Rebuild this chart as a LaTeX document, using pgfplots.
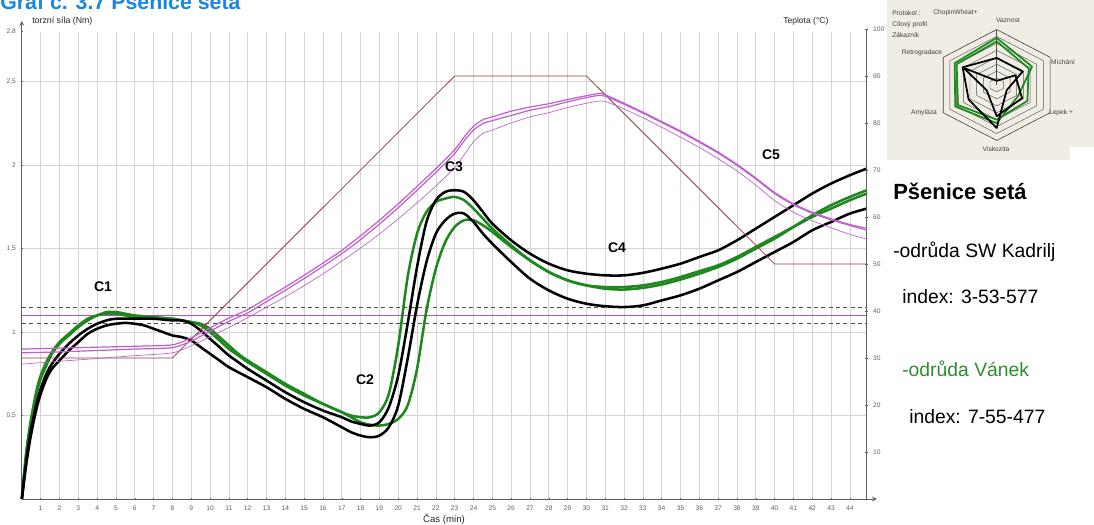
\documentclass[border=0pt]{standalone}
\usepackage{fontspec}
\setmainfont{Liberation Sans}
\usepackage{pgfplots}
\pgfplotsset{compat=1.18}
\definecolor{grn}{RGB}{30,135,30}
\definecolor{mag}{RGB}{190,95,205}
\definecolor{magl}{RGB}{175,80,195}
\definecolor{brn}{RGB}{150,60,60}
\definecolor{dsh}{RGB}{95,75,75}
\definecolor{gridc}{RGB}{212,212,212}
\definecolor{axc}{RGB}{95,95,95}
\definecolor{beige}{RGB}{240,237,229}
\definecolor{ttl}{RGB}{25,135,225}
\definecolor{txtgrn}{RGB}{45,140,45}
\begin{document}
\begin{tikzpicture}
\begin{scope}[x=0.75pt,y=-0.75pt]
\fill[beige] (887,0) rectangle (1094,147);
\fill[beige] (887,147) rectangle (1070,160);
\end{scope}

% ---------------- torque axis ----------------
\begin{axis}[
  at={(16.4pt,-374.25pt)}, anchor=south west,
  scale only axis, width=633.7pt, height=350.5pt,
  xmin=0, xmax=44.9, ymin=0, ymax=2.8,
  axis x line=bottom, axis y line=left,
  axis line style={axc, line width=0.6pt},
  x axis line style={-stealth, shorten >=-7.5pt},
  y axis line style={-stealth, shorten >=-8pt},
  xtick={1,...,44}, ytick={0.5,1,1.5,2,2.5},
  extra y ticks={2.8}, extra y tick style={grid=none},
  grid=major, grid style={gridc, line width=0.5pt},
  tick style={axc, line width=0.4pt}, major tick length=2pt, tick align=center,
  tick label style={font=\fontsize{5}{6}\selectfont, text=axc},
  xticklabel style={inner sep=0.5pt, yshift=-3.2pt},
  /pgf/number format/use comma, /pgf/number format/assume math mode=true,
  clip=false,
]
\addplot[dsh, line width=0.6pt, dash pattern=on 3pt off 2.5pt] coordinates {(0,1.15)(44.9,1.15)};
\addplot[dsh, line width=0.6pt, dash pattern=on 3pt off 2.5pt] coordinates {(0,1.05)(44.9,1.05)};
\addplot[magl, line width=0.9pt] coordinates {(0,1.1)(44.9,1.1)};
% green 1
\addplot[grn, line width=1.9pt, smooth, tension=0.5, line join=round] coordinates {
(0,0)(0.2,0.25)(0.4,0.42)(0.6,0.55)(0.8,0.66)(1,0.74)(1.3,0.82)(1.6,0.88)(2,0.94)(2.5,0.99)(3,1.04)(3.5,1.08)(4,1.10)(4.5,1.12)(5,1.12)(5.5,1.11)(6,1.10)(7,1.09)(8,1.08)(8.5,1.07)(9,1.06)(9.5,1.04)(10,1.00)(10.5,0.95)(11,0.90)(11.5,0.86)(12,0.82)(13,0.75)(14,0.68)(15,0.62)(16,0.57)(17,0.52)(17.5,0.50)(18,0.49)(18.5,0.49)(19,0.52)(19.5,0.63)(20,0.92)(20.5,1.33)(21,1.59)(21.5,1.72)(22,1.78)(22.5,1.80)(23,1.81)(23.5,1.79)(24,1.74)(24.5,1.68)(25,1.62)(26,1.52)(27,1.43)(28,1.36)(29,1.31)(30,1.28)(31,1.26)(32,1.255)(33,1.265)(34,1.285)(35,1.315)(36,1.35)(37,1.39)(38,1.44)(39,1.50)(40,1.56)(41,1.63)(42,1.70)(43,1.76)(44,1.81)(44.9,1.85)};
% green 2
\addplot[grn, line width=1.9pt, smooth, tension=0.5, line join=round] coordinates {
(0,0)(0.2,0.23)(0.4,0.40)(0.6,0.53)(0.8,0.64)(1,0.72)(1.3,0.80)(1.6,0.87)(2,0.93)(2.5,0.98)(3,1.03)(3.5,1.07)(4,1.10)(4.5,1.11)(5,1.11)(5.5,1.10)(6,1.09)(7,1.085)(8,1.08)(8.5,1.07)(9,1.06)(9.5,1.05)(10,1.02)(10.5,0.97)(11,0.92)(11.5,0.87)(12,0.83)(13,0.76)(14,0.69)(15,0.63)(16,0.57)(17,0.52)(17.5,0.49)(18,0.46)(18.5,0.445)(19,0.44)(19.5,0.45)(20,0.48)(20.5,0.56)(21,0.78)(21.5,1.13)(22,1.38)(22.5,1.54)(23,1.63)(23.5,1.67)(24,1.67)(24.5,1.64)(25,1.60)(26,1.51)(27,1.43)(28,1.36)(29,1.31)(30,1.28)(31,1.27)(32,1.27)(33,1.28)(34,1.30)(35,1.33)(36,1.365)(37,1.40)(38,1.45)(39,1.51)(40,1.57)(41,1.63)(42,1.69)(43,1.74)(44,1.79)(44.9,1.83)};
% black 1
\addplot[black, line width=1.9pt, smooth, tension=0.5, line join=round] coordinates {
(0,0)(0.2,0.2)(0.4,0.36)(0.6,0.48)(0.8,0.58)(1,0.66)(1.3,0.75)(1.6,0.81)(2,0.87)(2.5,0.93)(3,0.98)(3.5,1.02)(4,1.05)(4.5,1.07)(5,1.08)(6,1.08)(7,1.08)(8,1.07)(8.5,1.07)(9,1.05)(9.5,1.01)(10,0.96)(10.5,0.91)(11,0.86)(11.5,0.82)(12,0.78)(13,0.71)(14,0.64)(15,0.58)(16,0.53)(17,0.49)(17.5,0.465)(18,0.45)(18.5,0.44)(19,0.46)(19.5,0.55)(20,0.74)(20.5,1.05)(21,1.39)(21.5,1.66)(22,1.79)(22.5,1.84)(23,1.85)(23.5,1.84)(24,1.79)(24.5,1.72)(25,1.65)(26,1.55)(27,1.47)(28,1.41)(29,1.37)(30,1.35)(31,1.34)(32,1.34)(33,1.355)(34,1.38)(35,1.41)(36,1.45)(37,1.49)(38,1.55)(39,1.62)(40,1.69)(41,1.76)(42,1.83)(43,1.89)(44,1.94)(44.9,1.98)};
% black 2
\addplot[black, line width=1.9pt, smooth, tension=0.5, line join=round] coordinates {
(0,0)(0.2,0.18)(0.4,0.33)(0.6,0.45)(0.8,0.55)(1,0.63)(1.3,0.72)(1.6,0.78)(2,0.83)(2.5,0.89)(3,0.94)(3.5,0.99)(4,1.02)(4.5,1.04)(5,1.05)(5.5,1.055)(6,1.05)(6.5,1.04)(7,1.02)(7.5,1.00)(8,0.98)(8.5,0.97)(9,0.95)(9.5,0.91)(10,0.87)(10.5,0.83)(11,0.79)(12,0.73)(13,0.67)(14,0.60)(15,0.54)(16,0.49)(17,0.43)(17.5,0.40)(18,0.38)(18.5,0.37)(19,0.38)(19.5,0.43)(20,0.56)(20.5,0.84)(21,1.16)(21.5,1.42)(22,1.59)(22.5,1.67)(23,1.71)(23.5,1.71)(24,1.66)(24.5,1.59)(25,1.53)(26,1.42)(27,1.32)(28,1.25)(29,1.20)(30,1.17)(31,1.155)(32,1.15)(33,1.16)(34,1.19)(35,1.22)(36,1.26)(37,1.31)(38,1.36)(39,1.42)(40,1.48)(41,1.54)(42,1.61)(43,1.66)(44,1.71)(44.9,1.74)};
\end{axis}

% ---------------- temperature axis ----------------
\begin{axis}[
  at={(16.4pt,-374.25pt)}, anchor=south west,
  scale only axis, width=633.7pt, height=352.5pt,
  xmin=0, xmax=44.9, ymin=0, ymax=100,
  axis x line=none, axis y line*=right,
  axis line style={axc, line width=0.6pt},
  xtick=\empty, ytick={10,20,...,100},
  tick style={axc, line width=0.4pt}, major tick length=2.5pt, tick align=center,
  tick label style={font=\fontsize{5}{6}\selectfont, text=axc},
  /pgf/number format/assume math mode=true,
  clip=false,
]
\addplot[brn, line width=0.6pt] coordinates {(0,30)(8,30)(23,90)(30,90)(40,50)(44.9,50)};
\addplot[mag, line width=0.9pt, smooth, tension=0.4] coordinates {
(0,31.9)(2,32.1)(4,32.3)(6,32.5)(8,32.8)(9,34.3)(10,36.4)(11,38.5)(12,40.3)(13,42.7)(14,45.1)(15,47.6)(16,50.2)(17,52.9)(18,56)(19,59.3)(20,62.8)(21,66.5)(22,70.3)(23,74.3)(23.5,77)(24,79.3)(24.5,80.7)(25,81.3)(26,82.5)(27,83.4)(28,84.1)(29,85)(30,85.8)(30.7,86.3)(31,86)(32,84.2)(33,82.3)(34,80.3)(35,78.3)(36,76.1)(37,73.8)(38,71.2)(39,68.3)(40,65.2)(41,62.8)(42,61)(43,59.6)(44,58.4)(44.9,57.6)};
\addplot[mag, line width=0.9pt, smooth, tension=0.4] coordinates {
(0,31.1)(2,31.3)(4,31.6)(6,31.9)(8,32.2)(9,33.6)(10,35.7)(11,37.8)(12,39.6)(13,42)(14,44.4)(15,46.9)(16,49.5)(17,52.2)(18,55.2)(19,58.5)(20,62)(21,65.7)(22,69.5)(23,73.5)(23.5,76.2)(24,78.5)(24.5,79.9)(25,80.5)(26,81.6)(27,82.7)(28,83.5)(29,84.5)(30,85.4)(30.7,85.9)(31,85.7)(32,84)(33,82.1)(34,80.1)(35,78.1)(36,75.9)(37,73.6)(38,71)(39,68.1)(40,65)(41,62.6)(42,60.8)(43,59.4)(44,58.2)(44.9,57.2)};
\addplot[mag, line width=0.5pt, smooth, tension=0.4] coordinates {
(0,28.7)(2,29.3)(4,29.9)(6,30.5)(8,31.1)(9,32.6)(10,34.5)(11,36.5)(12,38.6)(13,40.8)(14,43)(15,45.4)(16,47.9)(17,50.6)(18,53.4)(19,56.4)(20,59.6)(21,63)(22,66.6)(23,70.5)(23.5,73.2)(24,76)(24.5,77.8)(25,78.5)(26,80)(27,81.3)(28,82.2)(29,83.3)(30,84.2)(30.7,84.7)(31,84.6)(32,83)(33,81.1)(34,79.1)(35,77)(36,74.8)(37,72.4)(38,69.8)(39,66.8)(40,63.5)(41,61)(42,59.2)(43,57.7)(44,56.3)(44.9,55.3)};
\end{axis}

% ---------------- radar inset ----------------
\begin{axis}[
  at={(747.5pt,-63.75pt)}, anchor=origin,
  x=5.78pt, y=5.2pt, hide axis, clip=false,
  xmin=-9, xmax=9, ymin=-9, ymax=9,
]
\addplot[gray!70!black, line width=0.35pt, data cs=polar] coordinates {(90,1)(30,1)(330,1)(270,1)(210,1)(150,1)(90,1)};
\addplot[gray!70!black, line width=0.35pt, data cs=polar] coordinates {(90,2)(30,2)(330,2)(270,2)(210,2)(150,2)(90,2)};
\addplot[gray!70!black, line width=0.35pt, data cs=polar] coordinates {(90,3)(30,3)(330,3)(270,3)(210,3)(150,3)(90,3)};
\addplot[gray!70!black, line width=0.35pt, data cs=polar] coordinates {(90,4)(30,4)(330,4)(270,4)(210,4)(150,4)(90,4)};
\addplot[gray!70!black, line width=0.35pt, data cs=polar] coordinates {(90,5)(30,5)(330,5)(270,5)(210,5)(150,5)(90,5)};
\addplot[gray!70!black, line width=0.35pt, data cs=polar] coordinates {(90,6)(30,6)(330,6)(270,6)(210,6)(150,6)(90,6)};
\addplot[gray!70!black, line width=0.35pt, data cs=polar] coordinates {(90,7)(30,7)(330,7)(270,7)(210,7)(150,7)(90,7)};
\addplot[gray!50!black, line width=0.45pt, data cs=polar] coordinates {(90,8)(30,8)(330,8)(270,8)(210,8)(150,8)(90,8)};
\addplot[gray!60!black, line width=0.4pt, data cs=polar] coordinates {(90,0)(90,8)};
\addplot[grn, line width=1.3pt, data cs=polar, line join=round] coordinates {(90,6.8)(30,5.3)(330,3.2)(270,5.5)(210,6.2)(150,6.3)(90,6.8)};
\addplot[grn, line width=1.3pt, data cs=polar, line join=round] coordinates {(90,6.3)(30,4.8)(330,4.6)(270,5.0)(210,5.8)(150,6.0)(90,6.3)};
\addplot[black, line width=1.3pt, data cs=polar, line join=round] coordinates {(90,3.9)(30,3.9)(330,1.5)(270,6.2)(210,4.2)(150,5.1)(90,3.9)};
\addplot[black, line width=1.3pt, data cs=polar, line join=round] coordinates {(90,0.6)(30,2.8)(330,3.8)(270,4.5)(210,1.5)(150,5.0)(90,0.6)};
\end{axis}

\begin{scope}[x=0.75pt,y=-0.75pt]
% title (cut at top as in the reference)
\node[anchor=base west, inner sep=0, font=\bfseries\fontsize{16}{18}\selectfont, text=ttl] at (0,10) {Graf č. 3.7 Pšenice setá};
% axis titles
\node[anchor=west, inner sep=0, font=\fontsize{6.6}{8}\selectfont, text=black!85] at (32,21) {torzní síla (Nm)};
\node[anchor=west, inner sep=0, font=\fontsize{6.4}{8}\selectfont, text=black!85] at (783,21) {Teplota (°C)};
\node[inner sep=0, font=\fontsize{7.2}{9}\selectfont, text=black!85] at (444,519) {Čas (min)};
% curve labels
\node[inner sep=0, font=\bfseries\fontsize{10.5}{12}\selectfont] at (103,287) {C1};
\node[inner sep=0, font=\bfseries\fontsize{10.5}{12}\selectfont] at (365,380) {C2};
\node[inner sep=0, font=\bfseries\fontsize{10.5}{12}\selectfont] at (454,167) {C3};
\node[inner sep=0, font=\bfseries\fontsize{10.5}{12}\selectfont] at (617,248) {C4};
\node[inner sep=0, font=\bfseries\fontsize{10.5}{12}\selectfont] at (771,155) {C5};
% radar labels
\node[anchor=west, inner sep=0, font=\fontsize{5}{6}\selectfont, text=black!75] at (892,13) {Protokol :};
\node[anchor=west, inner sep=0, font=\fontsize{5}{6}\selectfont, text=black!75] at (933,13) {ChopinWheat+};
\node[anchor=west, inner sep=0, font=\fontsize{5}{6}\selectfont, text=black!75] at (892,24.5) {Cílový profil};
\node[anchor=west, inner sep=0, font=\fontsize{5}{6}\selectfont, text=black!75] at (892,35) {Zákazník};
\node[inner sep=0, font=\fontsize{5}{6}\selectfont, text=black!75] at (1008,20) {Vaznost};
\node[inner sep=0, font=\fontsize{5}{6}\selectfont, text=black!75] at (1063,62) {Míchání};
\node[inner sep=0, font=\fontsize{5}{6}\selectfont, text=black!75] at (1061,113) {Lepek +};
\node[inner sep=0, font=\fontsize{5}{6}\selectfont, text=black!75] at (996,149) {Viskozita};
\node[inner sep=0, font=\fontsize{5}{6}\selectfont, text=black!75] at (924,113) {Amyláza};
\node[inner sep=0, font=\fontsize{5}{6}\selectfont, text=black!75] at (922,53) {Retrogradace};
% right text block
\node[anchor=base west, inner sep=0, font=\bfseries\fontsize{16.5}{19}\selectfont] at (893,199) {Pšenice setá};
\node[anchor=base west, inner sep=0, font=\fontsize{14.5}{17}\selectfont] at (893,257) {-odrůda SW Kadrilj};
\node[anchor=base west, inner sep=0, font=\fontsize{14.5}{17}\selectfont] at (902,303) {index: 3-53-577};
\node[anchor=base west, inner sep=0, font=\fontsize{14.5}{17}\selectfont, text=txtgrn] at (902,376) {-odrůda Vánek};
\node[anchor=base west, inner sep=0, font=\fontsize{14.5}{17}\selectfont] at (909,423) {index: 7-55-477};
\pgfresetboundingbox
\path[use as bounding box] (0,0) rectangle (1094,524);
\end{scope}
\end{tikzpicture}
\end{document}
